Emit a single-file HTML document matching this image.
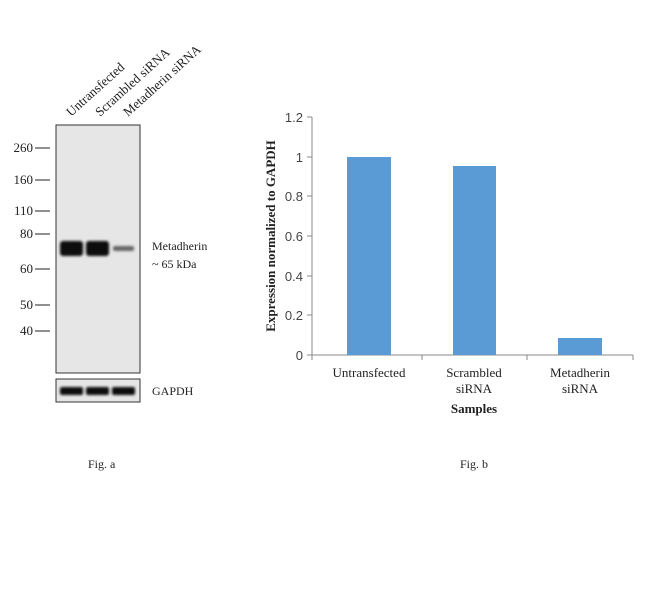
<!DOCTYPE html>
<html><head><style>
body{margin:0;background:#fff;width:650px;height:595px;overflow:hidden;font-family:"Liberation Serif",serif;}
</style></head><body>
<svg width="650" height="595" xmlns="http://www.w3.org/2000/svg">
<defs><filter id="b"><feGaussianBlur stdDeviation="1.4"/></filter></defs>
<rect x="56" y="125" width="84" height="248" fill="#e6e6e6" stroke="#333" stroke-width="1"/>
<rect x="56" y="379" width="84" height="23" fill="#e6e6e6" stroke="#333" stroke-width="1"/>
<g filter="url(#b)">
<rect x="60" y="241" width="23" height="15" rx="3" fill="#111"/>
<rect x="86" y="241" width="23" height="15" rx="3" fill="#111"/>
<rect x="113" y="246" width="21" height="5" rx="2" fill="#666"/>
<rect x="60" y="387" width="23" height="8" rx="2" fill="#111"/>
<rect x="86" y="387" width="23" height="8" rx="2" fill="#111"/>
<rect x="112" y="387" width="23" height="8" rx="2" fill="#111"/>
</g>
<g font-size="13" fill="#222" text-anchor="end">
<text x="33" y="152">260</text><line x1="35" y1="148" x2="50" y2="148" stroke="#222"/>
<text x="33" y="184">160</text><line x1="35" y1="180" x2="50" y2="180" stroke="#222"/>
<text x="33" y="215">110</text><line x1="35" y1="211" x2="50" y2="211" stroke="#222"/>
<text x="33" y="238">80</text><line x1="35" y1="234" x2="50" y2="234" stroke="#222"/>
<text x="33" y="273">60</text><line x1="35" y1="269" x2="50" y2="269" stroke="#222"/>
<text x="33" y="309">50</text><line x1="35" y1="305" x2="50" y2="305" stroke="#222"/>
<text x="33" y="335">40</text><line x1="35" y1="331" x2="50" y2="331" stroke="#222"/>
</g>
<g font-size="12" fill="#222">
<text x="152" y="250">Metadherin</text>
<text x="152" y="268">~ 65 kDa</text>
<text x="152" y="395">GAPDH</text>
<g font-size="13">
<text transform="translate(71,117) rotate(-42)">Untransfected</text>
<text transform="translate(100,117) rotate(-42)">Scrambled siRNA</text>
<text transform="translate(128,117) rotate(-42)">Metadherin siRNA</text>
</g>
<text x="88" y="468">Fig. a</text>
<text x="460" y="468">Fig. b</text>
</g>
<line x1="312" y1="117" x2="312" y2="355" stroke="#888"/>
<line x1="312" y1="355" x2="633" y2="355" stroke="#888"/>
<g stroke="#888">
<line x1="307" y1="117" x2="312" y2="117"/><line x1="307" y1="157" x2="312" y2="157"/>
<line x1="307" y1="196" x2="312" y2="196"/><line x1="307" y1="236" x2="312" y2="236"/>
<line x1="307" y1="276" x2="312" y2="276"/><line x1="307" y1="315" x2="312" y2="315"/>
<line x1="307" y1="355" x2="312" y2="355"/>
<line x1="312" y1="355" x2="312" y2="360"/><line x1="422" y1="355" x2="422" y2="360"/>
<line x1="527" y1="355" x2="527" y2="360"/><line x1="633" y1="355" x2="633" y2="360"/>
</g>
<g font-family="Liberation Sans,sans-serif" font-size="13" fill="#444" text-anchor="end">
<text x="303" y="122">1.2</text><text x="303" y="162">1</text><text x="303" y="201">0.8</text>
<text x="303" y="241">0.6</text><text x="303" y="281">0.4</text><text x="303" y="320">0.2</text><text x="303" y="360">0</text>
</g>
<rect x="347" y="157" width="44" height="198" fill="#5b9bd5"/>
<rect x="453" y="166" width="43" height="189" fill="#5b9bd5"/>
<rect x="558" y="338" width="44" height="17" fill="#5b9bd5"/>
<g font-size="13" fill="#222" text-anchor="middle">
<text x="369" y="377">Untransfected</text>
<text x="474" y="377">Scrambled</text><text x="474" y="393">siRNA</text>
<text x="580" y="377">Metadherin</text><text x="580" y="393">siRNA</text>
<text x="474" y="413" font-weight="bold">Samples</text>
<text transform="translate(275,236) rotate(-90)" font-weight="bold">Expression  normalized to GAPDH</text>
</g>
</svg>
</body></html>
